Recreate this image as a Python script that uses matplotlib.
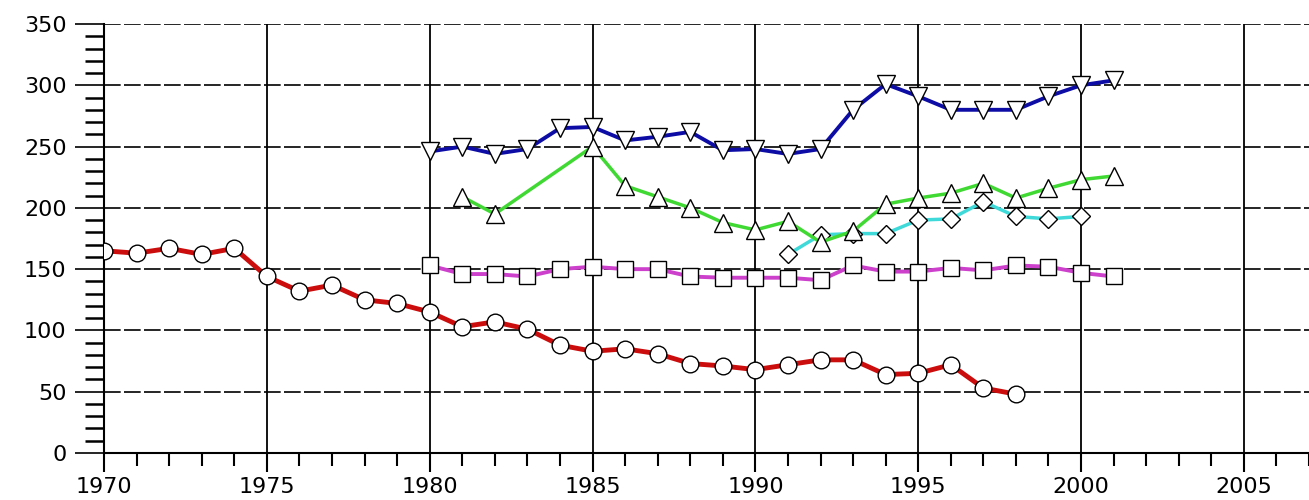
import numpy as np
import matplotlib
matplotlib.use("Agg")
import matplotlib.pyplot as plt
from matplotlib.ticker import MultipleLocator


# ---------------------------------------------------------------------------
# Data
# ---------------------------------------------------------------------------
years_red = list(range(1970, 1999))
red = [165, 163, 167, 162, 167, 144, 132, 137, 125, 122,
       115, 103, 107, 101, 88, 83, 85, 81, 73, 71,
       68, 72, 76, 76, 64, 65, 72, 53, 48]

years_blue = list(range(1980, 2002))
blue = [246, 250, 244, 248, 265, 266, 255, 258, 262, 247,
        248, 244, 248, 280, 301, 291, 280, 280, 280, 291,
        300, 304]

years_green = [1981, 1982, 1985, 1986, 1987, 1988, 1989, 1990, 1991, 1992,
               1993, 1994, 1995, 1996, 1997, 1998, 1999, 2000, 2001]
green = [209, 195, 250, 218, 209, 200, 188, 182, 189, 172,
         181, 203, 208, 212, 220, 208, 216, 223, 226]

years_cyan = list(range(1991, 2001))
cyan = [162, 178, 179, 179, 190, 191, 205, 193, 191, 193]

years_mag = list(range(1980, 2002))
magenta = [153, 146, 146, 144, 150, 152, 150, 150, 144, 143,
           143, 143, 141, 153, 148, 148, 151, 149, 153, 152,
           147, 144]


# ---------------------------------------------------------------------------
# Figure
# ---------------------------------------------------------------------------
fig = plt.figure(figsize=(13.09, 5.0), dpi=100, facecolor="white")
ax = fig.add_axes([0.0795, 0.094, 0.9205, 0.858])

marker_kw = dict(markerfacecolor="white", markeredgecolor="black",
                 markeredgewidth=1.0, zorder=4)

ax.plot(years_red, red, color=(0.80, 0.05, 0.05), lw=3.5,
        marker="o", markersize=12, **marker_kw)
ax.plot(years_mag, magenta, color=(0.80, 0.25, 0.80), lw=2.8,
        marker="s", markersize=12, **marker_kw)
ax.plot(years_cyan, cyan, color=(0.25, 0.85, 0.85), lw=2.5,
        marker="D", markersize=9.5, **marker_kw)
ax.plot(years_green, green, color=(0.25, 0.85, 0.20), lw=2.5,
        marker="^", markersize=13, **marker_kw)
ax.plot(years_blue, blue, color=(0.05, 0.05, 0.65), lw=2.8,
        marker="v", markersize=13, **marker_kw)

ax.set_xlim(1970, 2007)
ax.set_ylim(0, 350)

ax.xaxis.set_major_locator(MultipleLocator(5))
ax.xaxis.set_minor_locator(MultipleLocator(1))
ax.yaxis.set_major_locator(MultipleLocator(50))
ax.yaxis.set_minor_locator(MultipleLocator(10))

ax.grid(axis="x", which="major", color="black", lw=1.3, ls="-")
ax.grid(axis="y", which="major", color="black", lw=1.2, ls=(0, (10, 2)))

for side in ("top", "right"):
    ax.spines[side].set_visible(False)
for side in ("left", "bottom"):
    ax.spines[side].set_linewidth(1.5)

ax.tick_params(axis="y", which="major", direction="out", length=21,
               width=1.2, pad=6, labelsize=16)
ax.tick_params(axis="y", which="minor", direction="out", length=14, width=1.8)
ax.tick_params(axis="x", which="major", direction="out", length=14,
               width=1.5, pad=3, labelsize=16)
ax.tick_params(axis="x", which="minor", direction="out", length=9, width=1.5)

ax.set_axisbelow(True)

fig.savefig("out.png", dpi=100, facecolor="white")
